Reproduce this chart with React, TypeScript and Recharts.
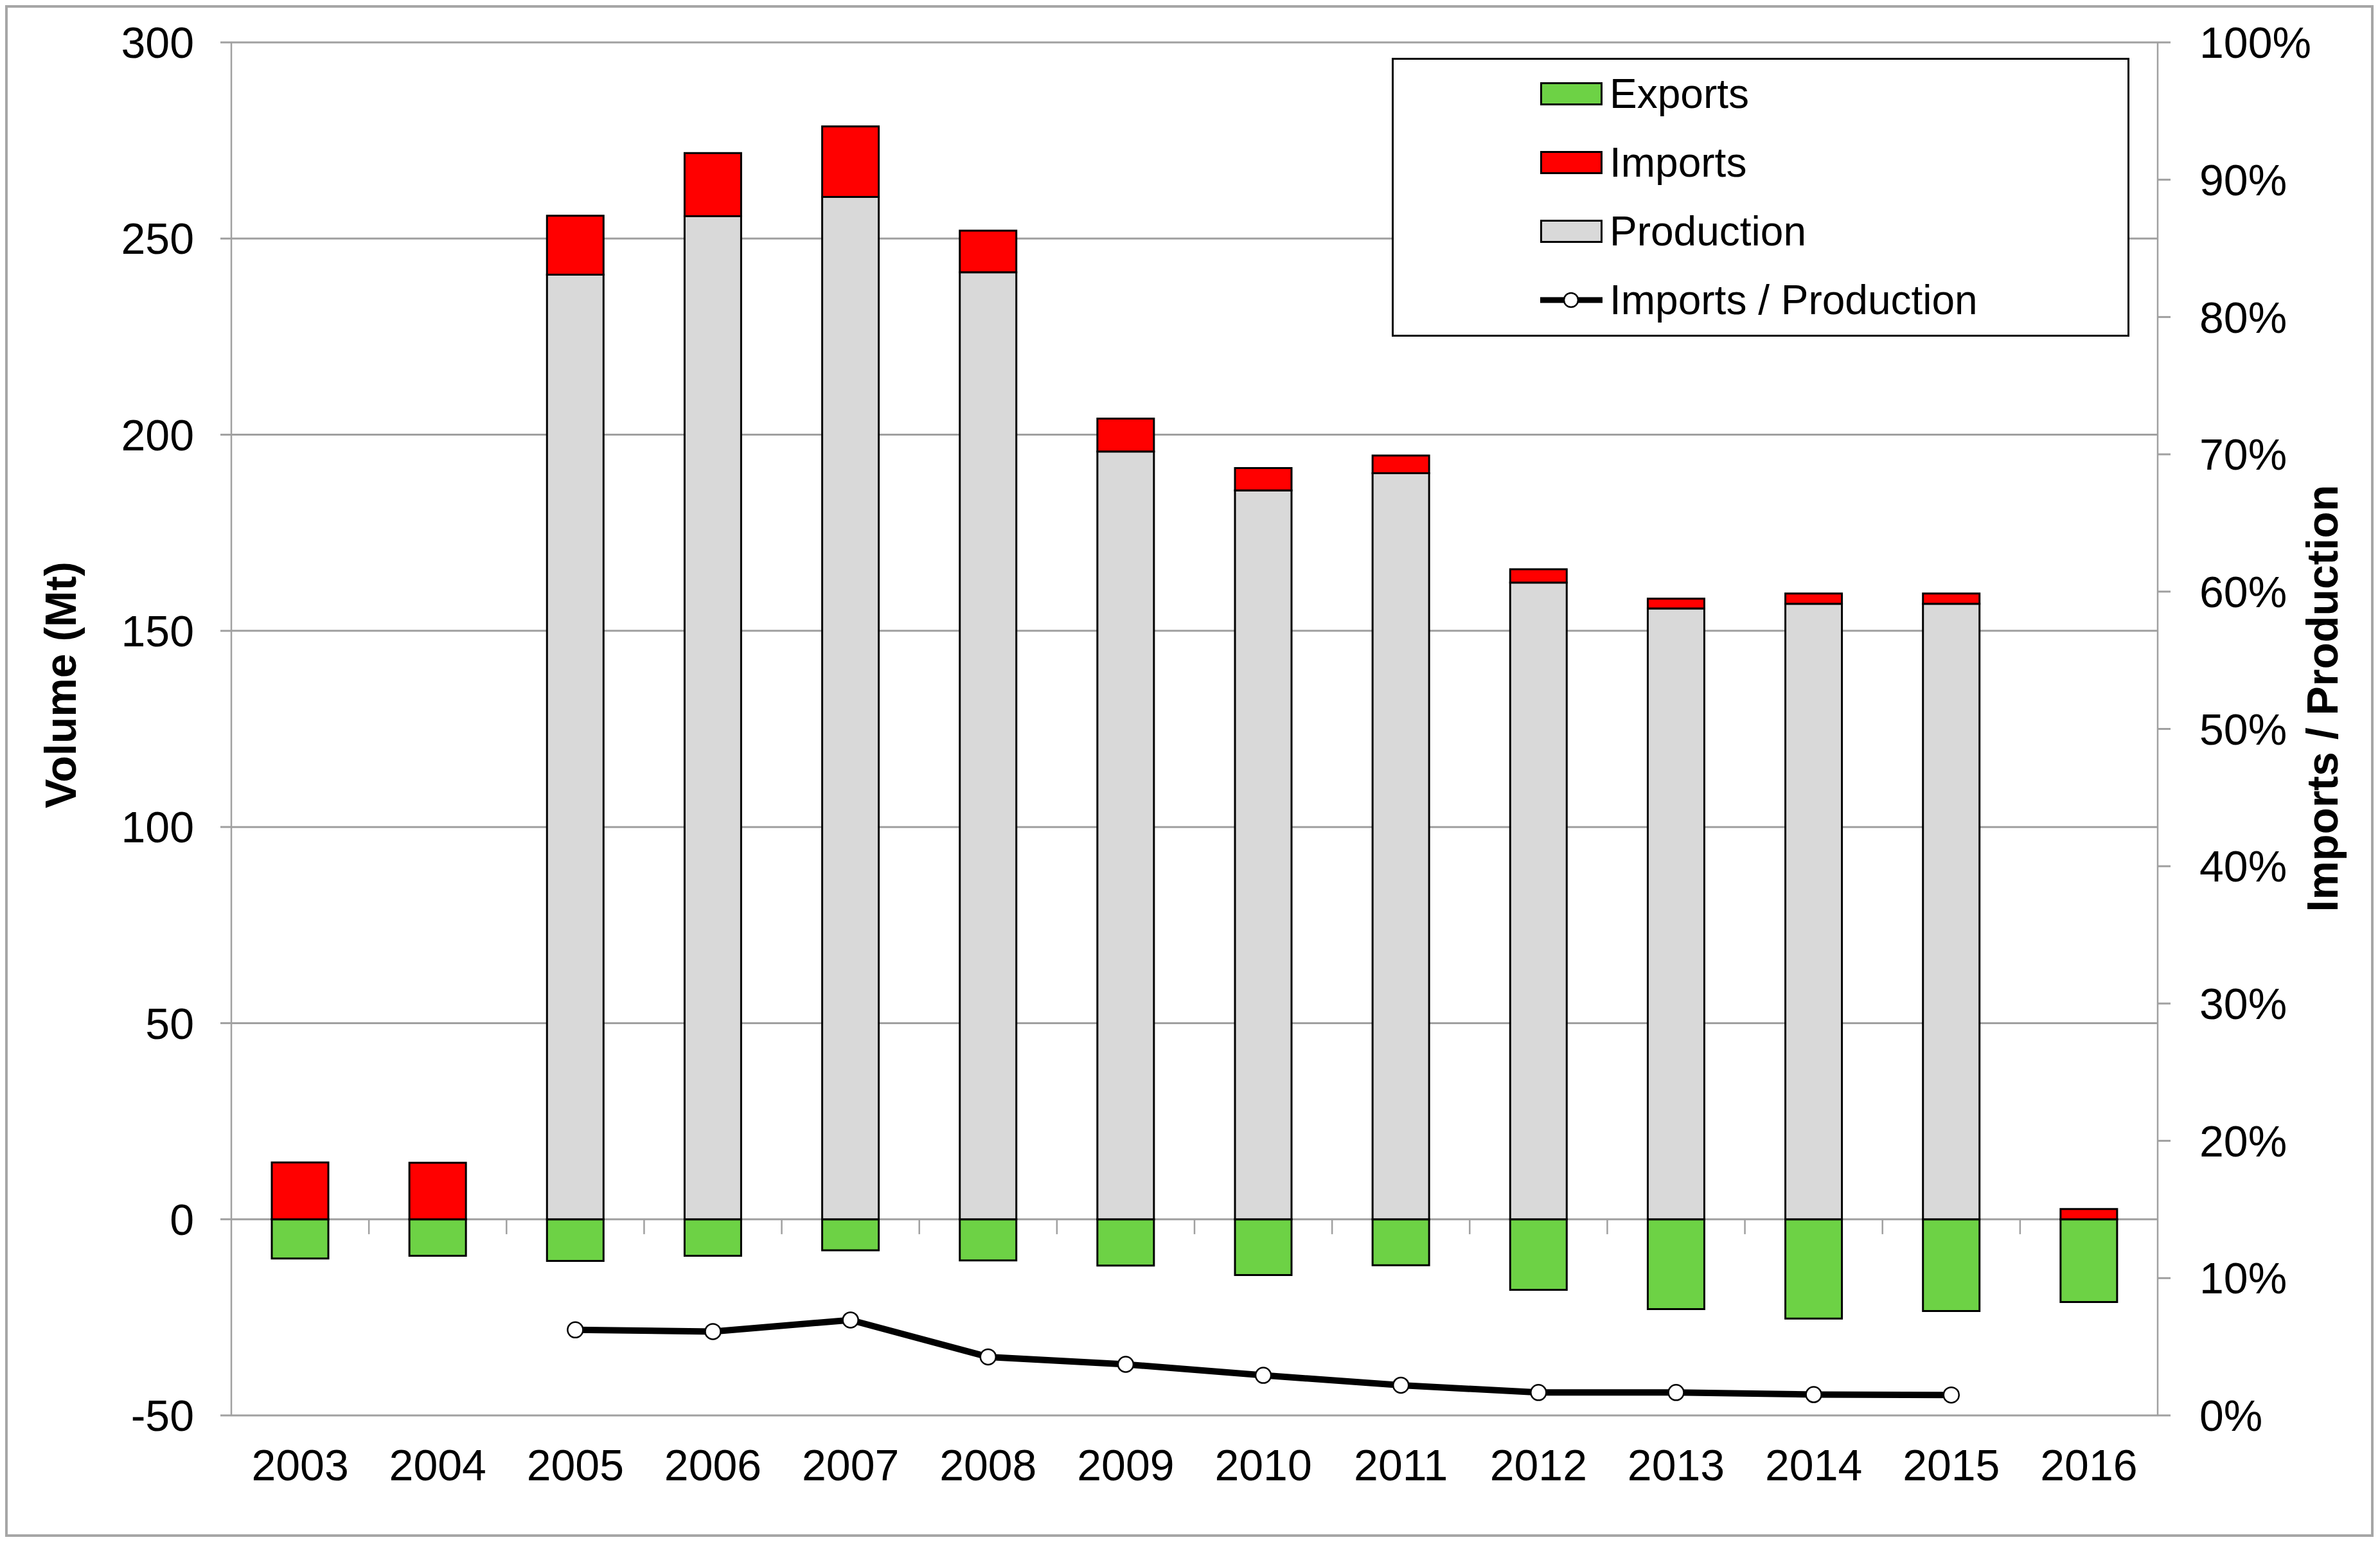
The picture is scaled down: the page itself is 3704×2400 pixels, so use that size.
import React from "react";
import {
  ComposedChart,
  Bar,
  Line,
  XAxis,
  YAxis,
  CartesianGrid,
  Legend,
  ReferenceLine,
} from "recharts";

const years = [
  "2003", "2004", "2005", "2006", "2007", "2008", "2009",
  "2010", "2011", "2012", "2013", "2014", "2015", "2016",
];
// Mt
const production = [0, 0, 240.8, 255.7, 260.6, 241.4, 195.7, 185.8, 190.2, 162.3, 155.7, 156.9, 156.9, 0];
const imports = [14.5, 14.4, 15.0, 16.1, 18.0, 10.6, 8.4, 5.7, 4.5, 3.4, 2.5, 2.6, 2.6, 2.6];
const exportsMt = [-10.0, -9.3, -10.6, -9.3, -7.9, -10.5, -11.8, -14.2, -11.7, -18.0, -22.9, -25.3, -23.4, -21.1];
// share, right axis
const importShare = [null, null, 0.0623, 0.0611, 0.0695, 0.0426, 0.0372, 0.0292, 0.022, 0.0167, 0.0167, 0.0152, 0.0149, null];

const leftTicks = [-50, 0, 50, 100, 150, 200, 250, 300];
const rightTicks = [0, 0.1, 0.2, 0.3, 0.4, 0.5, 0.6, 0.7, 0.8, 0.9, 1];

const GREEN = "#6dd245";
const RED = "#ff0000";
const GREY = "#d9d9d9";
const AXIS = "#a0a0a0";
const FONT = "'Liberation Sans', Arial, sans-serif";

const legendItems = [
  { name: "Exports", color: GREEN, kind: "box" },
  { name: "Imports", color: RED, kind: "box" },
  { name: "Production", color: GREY, kind: "box" },
  { name: "Imports / Production", color: "#000", kind: "line" },
];

const data = years.map((year, i) => ({
  year,
  exports: exportsMt[i],
  production: production[i],
  imports: imports[i],
  share: importShare[i],
}));

function LegendBox() {
  return (
    <div
      style={{
        position: "relative",
        width: 1148,
        height: 434,
        border: "3px solid #000",
        boxSizing: "border-box",
        background: "#fff",
        fontFamily: FONT,
      }}
    >
      {legendItems.map((item, i) => (
        <div
          key={item.name}
          style={{
            position: "absolute",
            left: 228,
            top: 53 + i * 107 - 40,
            height: 80,
            display: "flex",
            alignItems: "center",
            whiteSpace: "nowrap",
          }}
        >
          {item.kind === "box" ? (
            <div
              style={{
                width: 97,
                height: 36,
                background: item.color,
                border: "3px solid #000",
                boxSizing: "border-box",
              }}
            />
          ) : (
            <svg width={97} height={36}>
              <line x1={0} y1={18} x2={97} y2={18} stroke="#000" strokeWidth={9} />
              <circle cx={48} cy={18} r={11} fill="#fff" stroke="#000" strokeWidth={2.5} />
            </svg>
          )}
          <span style={{ marginLeft: 11, fontSize: 64, lineHeight: 1, color: "#000" }}>
            {item.name}
          </span>
        </div>
      ))}
    </div>
  );
}

export default function App() {
  const tickStyle = { fill: "#000", fontSize: 68, fontFamily: FONT };
  return (
    <div
      style={{
        width: 3686,
        height: 2384,
        border: `4px solid #a6a6a6`,
        boxSizing: "border-box",
        background: "#fff",
        fontFamily: FONT,
      }}
    >
      <ComposedChart
        width={3678}
        height={2376}
        data={data}
        stackOffset="sign"
        margin={{ top: 54, right: 102, bottom: 65, left: 148 }}
      >
        <CartesianGrid
          yAxisId="left"
          vertical={false}
          stroke={AXIS}
          strokeWidth={3}
        />
        <XAxis
          dataKey="year"
          height={120}
          interval={0}
          axisLine={false}
          tickLine={false}
          tickSize={0}
          tickMargin={53}
          tick={tickStyle}
        />
        <YAxis
          yAxisId="left"
          width={200}
          domain={[-50, 300]}
          ticks={leftTicks}
          interval={0}
          allowDataOverflow
          axisLine={{ stroke: AXIS, strokeWidth: 2.5 }}
          tickLine={{ stroke: AXIS, strokeWidth: 3 }}
          tickSize={17}
          tickMargin={41}
          tick={tickStyle}
          label={{
            content: () => (
              <text
                x={82}
                y={1054}
                transform="rotate(-90 82 1054)"
                textAnchor="middle"
                dominantBaseline="central"
                fontSize={68}
                fontWeight="bold"
                fontFamily={FONT}
                fill="#000"
              >
                Volume (Mt)
              </text>
            ),
          }}
        />
        <YAxis
          yAxisId="right"
          orientation="right"
          width={230}
          domain={[0, 1]}
          ticks={rightTicks}
          interval={0}
          allowDataOverflow
          tickFormatter={(v: number) => `${Math.round(v * 100)}%`}
          axisLine={{ stroke: AXIS, strokeWidth: 2.5 }}
          tickLine={{ stroke: AXIS, strokeWidth: 3 }}
          tickSize={20}
          tickMargin={45}
          tick={tickStyle}
          label={{
            content: () => (
              <text
                x={3602}
                y={1075}
                transform="rotate(-90 3602 1075)"
                textAnchor="middle"
                dominantBaseline="central"
                fontSize={68}
                fontWeight="bold"
                fontFamily={FONT}
                fill="#000"
              >
                Imports / Production
              </text>
            ),
          }}
        />
        <Bar
          yAxisId="left"
          dataKey="exports"
          name="Exports"
          stackId="vol"
          fill={GREEN}
          stroke="#000"
          strokeWidth={3}
          barSize={88}
          isAnimationActive={false}
        />
        <Bar
          yAxisId="left"
          dataKey="production"
          name="Production"
          stackId="vol"
          fill={GREY}
          stroke="#000"
          strokeWidth={3}
          barSize={88}
          isAnimationActive={false}
        />
        <Bar
          yAxisId="left"
          dataKey="imports"
          name="Imports"
          stackId="vol"
          fill={RED}
          stroke="#000"
          strokeWidth={3}
          barSize={88}
          isAnimationActive={false}
        />
        {/* small tick marks under the zero line at category boundaries */}
        {years.slice(1).map((y) => (
          <ReferenceLine
            key={y}
            yAxisId="left"
            position="start"
            segment={[
              { x: y, y: 0 },
              { x: y, y: -3.8 },
            ]}
            stroke={AXIS}
            strokeWidth={2.5}
          />
        ))}
        <Line
          yAxisId="right"
          dataKey="share"
          name="Imports / Production"
          stroke="#000"
          strokeWidth={10}
          dot={{ r: 12, fill: "#fff", stroke: "#000", strokeWidth: 2.5 }}
          activeDot={false}
          isAnimationActive={false}
        />
        <Legend
          layout="vertical"
          align="center"
          verticalAlign="middle"
          wrapperStyle={{ left: 2154, top: 78, width: 1148, height: 434 }}
          content={() => <LegendBox />}
        />
      </ComposedChart>
    </div>
  );
}
